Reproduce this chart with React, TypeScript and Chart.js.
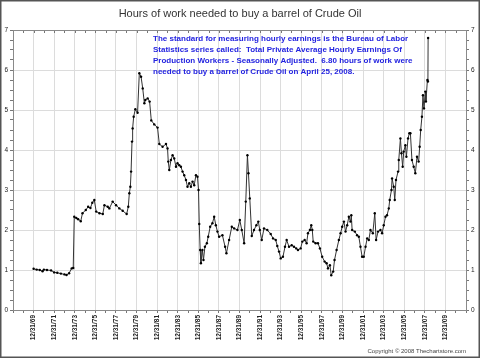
import React, { useEffect, useRef } from "react";
import Chart from "chart.js/auto";

const years: number[] = [
  1970.0, 1970.3, 1970.6, 1970.87, 1971.0, 1971.3, 1971.7, 1972.0, 1972.3, 1972.65,
  1973.0, 1973.2, 1973.45, 1973.7, 1973.85, 1973.95, 1974.15, 1974.33, 1974.58, 1974.75,
  1975.07, 1975.3, 1975.52, 1975.7, 1975.9, 1976.08, 1976.4, 1976.72, 1976.88, 1977.2,
  1977.36, 1977.68, 1978.01, 1978.33, 1978.65, 1979.04, 1979.2, 1979.3, 1979.4, 1979.47,
  1979.56, 1979.62, 1979.72, 1979.88, 1980.1, 1980.27, 1980.44, 1980.6, 1980.76, 1980.85,
  1981.08, 1981.27, 1981.43, 1981.72, 1982.04, 1982.21, 1982.53, 1982.86, 1983.01, 1983.08,
  1983.18, 1983.34, 1983.5, 1983.66, 1983.83, 1983.98, 1984.15, 1984.31, 1984.47, 1984.63,
  1984.8, 1984.95, 1985.12, 1985.28, 1985.44, 1985.6, 1985.77, 1985.92, 1986.02, 1986.09,
  1986.18, 1986.25, 1986.4, 1986.5, 1986.64, 1986.83, 1986.96, 1987.15, 1987.37, 1987.54,
  1987.7, 1987.86, 1988.02, 1988.34, 1988.6, 1988.73, 1988.99, 1989.25, 1989.48, 1989.8,
  1990.03, 1990.22, 1990.45, 1990.61, 1990.77, 1990.87, 1991.0, 1991.19, 1991.41, 1991.64,
  1991.83, 1991.97, 1992.16, 1992.38, 1992.7, 1993.03, 1993.26, 1993.52, 1993.67, 1993.84,
  1994.0, 1994.22, 1994.42, 1994.58, 1994.81, 1995.07, 1995.29, 1995.51, 1995.68, 1995.94,
  1996.1, 1996.33, 1996.52, 1996.65, 1996.84, 1996.97, 1997.07, 1997.16, 1997.39, 1997.62,
  1997.81, 1998.03, 1998.27, 1998.46, 1998.59, 1998.78, 1998.91, 1999.1, 1999.23, 1999.43,
  1999.65, 1999.82, 1999.97, 2000.14, 2000.3, 2000.46, 2000.62, 2000.78, 2000.86, 2000.94,
  2001.2, 2001.42, 2001.59, 2001.75, 2001.91, 2002.07, 2002.24, 2002.4, 2002.56, 2002.72,
  2002.95, 2003.14, 2003.27, 2003.46, 2003.69, 2003.85, 2004.01, 2004.18, 2004.33, 2004.5,
  2004.59, 2004.76, 2004.82, 2004.98, 2005.08, 2005.2, 2005.4, 2005.47, 2005.63, 2005.73,
  2005.85, 2005.95, 2006.11, 2006.21, 2006.37, 2006.5, 2006.6, 2006.75, 2006.92, 2007.08,
  2007.24, 2007.4, 2007.5, 2007.6, 2007.72, 2007.82, 2007.92, 2008.05, 2008.11, 2008.25,
  2008.3, 2008.32,
];

const hours: number[] = [
  1.03, 1.01, 1.0, 0.97, 1.01, 1.0, 0.99, 0.94, 0.93, 0.91,
  0.89, 0.875, 0.92, 1.04, 1.05, 2.33, 2.3, 2.27, 2.22, 2.42,
  2.5, 2.58, 2.55, 2.68, 2.75, 2.46, 2.42, 2.4, 2.62, 2.58,
  2.54, 2.71, 2.62, 2.54, 2.48, 2.4, 2.58, 2.92, 3.08, 3.46,
  4.21, 4.54, 4.83, 5.02, 4.93, 5.92, 5.83, 5.54, 5.17, 5.25,
  5.29, 5.21, 4.74, 4.64, 4.56, 4.15, 4.08, 4.15, 4.04, 3.71,
  3.5, 3.75, 3.87, 3.79, 3.58, 3.67, 3.62, 3.58, 3.46, 3.37,
  3.25, 3.08, 3.17, 3.08, 3.21, 3.12, 3.37, 3.33, 3.0, 2.15,
  1.5, 1.17, 1.5, 1.25, 1.58, 1.67, 1.83, 2.08, 2.17, 2.33,
  2.12, 1.96, 1.83, 1.87, 1.58, 1.42, 1.75, 2.08, 2.04, 2.0,
  2.25, 2.0, 1.67, 2.71, 3.87, 3.42, 2.79, 1.85, 2.0, 2.12,
  2.21, 2.0, 1.75, 2.04, 2.0, 1.9, 1.79, 1.75, 1.6, 1.46,
  1.29, 1.33, 1.58, 1.75, 1.58, 1.62, 1.58, 1.54, 1.5, 1.54,
  1.71, 1.75, 1.67, 1.92, 2.0, 2.12, 2.0, 1.71, 1.67, 1.67,
  1.54, 1.33, 1.21, 1.17, 1.04, 1.12, 0.87, 0.96, 1.25, 1.5,
  1.75, 1.92, 2.08, 2.21, 1.96, 2.12, 2.33, 2.21, 2.37, 2.0,
  1.96, 1.87, 1.83, 1.58, 1.33, 1.33, 1.58, 1.79, 1.75, 2.0,
  1.92, 2.42, 1.75, 1.96, 2.0, 1.92, 2.12, 2.33, 2.37, 2.54,
  2.75, 3.0, 3.29, 3.08, 2.75, 3.25, 3.46, 3.75, 4.29, 3.92,
  3.58, 3.96, 4.12, 3.83, 4.29, 4.42, 4.42, 3.75, 3.58, 3.42,
  3.83, 3.71, 4.08, 4.5, 4.83, 5.37, 5.04, 5.46, 5.21, 5.75,
  5.71, 6.8,
];

const xTickYears: number[] = [
  1970, 1972, 1974, 1976, 1978, 1980, 1982, 1984, 1986, 1988, 1990,
  1992, 1994, 1996, 1998, 2000, 2002, 2004, 2006, 2008, 2010,
];
const xTickLabels: string[] = [
  "12/31/69", "12/31/71", "12/31/73", "12/31/75", "12/31/77", "12/31/79",
  "12/31/81", "12/31/83", "12/31/85", "12/31/87", "12/31/89", "12/31/91",
  "12/31/93", "12/31/95", "12/31/97", "12/31/99", "12/31/01", "12/31/03",
  "12/31/05", "12/31/07", "12/31/09",
];

const titleText = "Hours of work needed to buy a barrel of Crude Oil";
const noteLines: string[] = [
  "The standard for measuring hourly earnings is the Bureau of Labor",
  "Statistics series called:  Total Private Average Hourly Earnings Of",
  "Production Workers - Seasonally Adjusted.  6.80 hours of work were",
  "needed to buy a barrel of Crude Oil on April 25, 2008.",
];
const copyrightText = "Copyright \u00A9 2008 Thechartstore.com";

export default function App() {
  const ref = useRef<HTMLCanvasElement | null>(null);

  useEffect(() => {
    document.body.style.margin = "0";
    const canvas = ref.current;
    if (!canvas) return;

    const decor = {
      id: "decor",
      beforeDraw(chart: any) {
        const ctx = chart.ctx;
        ctx.save();
        ctx.fillStyle = "#ffffff";
        ctx.fillRect(0, 0, chart.width, chart.height);
        ctx.restore();
      },
      afterDraw(chart: any) {
        const ctx = chart.ctx;
        const area = chart.chartArea;
        const xs = chart.scales.x;
        ctx.save();
        // top edge ticks
        ctx.strokeStyle = "#777";
        ctx.lineWidth = 1;
        for (let yr = 1968; yr <= 2012; yr++) {
          const px = Math.round(xs.getPixelForValue(yr)) + 0.5;
          ctx.beginPath();
          ctx.moveTo(px, area.top);
          ctx.lineTo(px, area.top + 3);
          ctx.stroke();
        }
        // plot border
        ctx.strokeStyle = "#8a8a8a";
        ctx.strokeRect(
          Math.round(area.left) + 0.5,
          Math.round(area.top) + 0.5,
          Math.round(area.right - area.left),
          Math.round(area.bottom - area.top)
        );
        // title
        ctx.fillStyle = "#333";
        ctx.font = "11px Arial, 'Liberation Sans', sans-serif";
        ctx.textAlign = "center";
        ctx.textBaseline = "middle";
        ctx.fillText(titleText, 240, 14);
        // annotation
        ctx.fillStyle = "#2323e0";
        ctx.font = "bold 8px Arial, 'Liberation Sans', sans-serif";
        ctx.textAlign = "left";
        noteLines.forEach((ln, i) => {
          ctx.fillText(ln, 153, 38.5 + i * 11.1);
        });
        // copyright
        ctx.fillStyle = "#444";
        ctx.font = "6px Arial, 'Liberation Sans', sans-serif";
        ctx.textAlign = "right";
        ctx.fillText(copyrightText, 466, 351);
        // frame
        ctx.strokeStyle = "#555";
        ctx.lineWidth = 1.5;
        ctx.strokeRect(0.75, 0.75, chart.width - 1.5, chart.height - 1.5);
        ctx.restore();
      },
    };

    const isInt = (v: number) => Math.abs(v - Math.round(v)) < 1e-6;

    const chart = new Chart(canvas, {
      type: "line",
      data: {
        datasets: [
          {
            data: years.map((y, i) => ({ x: y, y: hours[i] })),
            borderColor: "#333",
            borderWidth: 1,
            pointRadius: 1.2,
            pointBackgroundColor: "#000",
            pointBorderColor: "#000",
            pointBorderWidth: 0,
            tension: 0,
          },
        ],
      },
      options: {
        animation: false,
        responsive: false,
        devicePixelRatio: 1,
        layout: { padding: { top: 30, left: 0, right: 0, bottom: 0 } },
        plugins: {
          legend: { display: false },
          tooltip: { enabled: false },
          title: { display: false },
        },
        scales: {
          x: {
            type: "linear",
            min: 1968,
            max: 2012,
            position: "bottom",
            afterFit: (s: any) => {
              s.height = 48;
            },
            afterBuildTicks: (s: any) => {
              const t = [];
              for (let yr = 1968; yr <= 2012; yr++) t.push({ value: yr });
              s.ticks = t;
            },
            ticks: {
              autoSkip: false,
              minRotation: 90,
              maxRotation: 90,
              padding: 2,
              color: "#222",
              font: { family: "Arial, 'Liberation Sans', sans-serif", size: 6.5, weight: "bold" },
              callback: (v: any) => {
                const idx = xTickYears.indexOf(Math.round(Number(v)));
                return idx >= 0 ? xTickLabels[idx] : "";
              },
            },
            grid: {
              color: (c: any) => {
                const v = c.tick ? c.tick.value : 0;
                return xTickYears.indexOf(Math.round(v)) >= 0 ? "#dcdcdc" : "rgba(0,0,0,0)";
              },
              tickColor: "#777",
              tickLength: 3,
              drawOnChartArea: true,
            },
            border: { display: true, color: "#8a8a8a" },
          },
          y: {
            type: "linear",
            min: 0,
            max: 7,
            position: "left",
            afterFit: (s: any) => {
              s.width = 13;
            },
            afterBuildTicks: (s: any) => {
              const t = [];
              for (let k = 0; k <= 28; k++) t.push({ value: k * 0.25 });
              s.ticks = t;
            },
            ticks: {
              autoSkip: false,
              padding: 2,
              color: "#222",
              font: { family: "Arial, 'Liberation Sans', sans-serif", size: 6.5 },
              callback: (v: any) => (isInt(Number(v)) ? String(Math.round(Number(v))) : ""),
            },
            grid: {
              color: (c: any) => {
                const v = c.tick ? c.tick.value : 0;
                return isInt(v) ? "#dcdcdc" : "rgba(0,0,0,0)";
              },
              tickColor: "#777",
              tickLength: 3,
            },
            border: { display: true, color: "#8a8a8a" },
          },
          y2: {
            type: "linear",
            min: 0,
            max: 7,
            position: "right",
            afterFit: (s: any) => {
              s.width = 14;
            },
            afterBuildTicks: (s: any) => {
              const t = [];
              for (let k = 0; k <= 28; k++) t.push({ value: k * 0.25 });
              s.ticks = t;
            },
            ticks: {
              autoSkip: false,
              padding: 2,
              color: "#222",
              font: { family: "Arial, 'Liberation Sans', sans-serif", size: 6.5 },
              callback: (v: any) => (isInt(Number(v)) ? String(Math.round(Number(v))) : ""),
            },
            grid: {
              drawOnChartArea: false,
              tickColor: "#777",
              tickLength: 3,
            },
            border: { display: true, color: "#8a8a8a" },
          },
        },
      },
      plugins: [decor],
    } as any);

    return () => chart.destroy();
  }, []);

  return (
    <canvas
      ref={ref}
      width={480}
      height={358}
      style={{ display: "block", width: 480, height: 358 }}
    />
  );
}
